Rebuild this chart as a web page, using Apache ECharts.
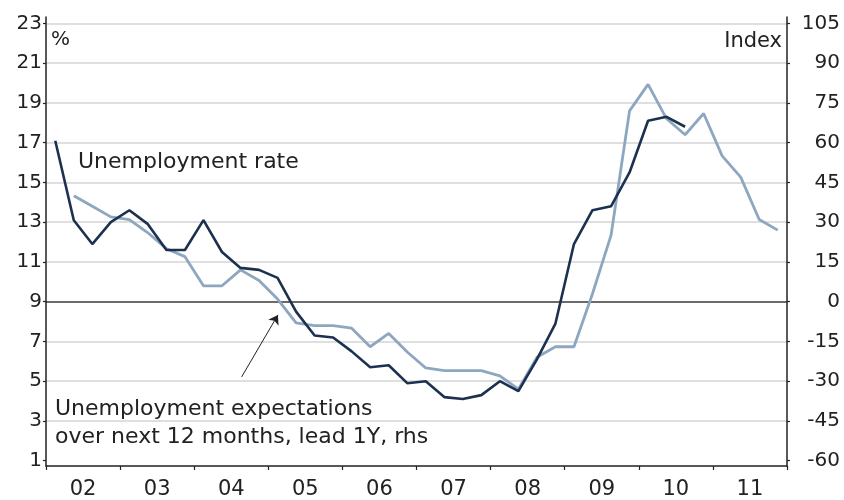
<!DOCTYPE html>
<html>
<head>
<meta charset="utf-8">
<script src="https://cdn.jsdelivr.net/npm/echarts@6/dist/echarts.min.js"></script>
<style>
  html, body { margin: 0; padding: 0; background: #fff; }
  #chart { width: 844px; height: 500px; }
</style>
</head>
<body>
<div id="chart"></div>
<script>
// Year labels on the bottom axis (one band per year)
const years = ['02', '03', '04', '05', '06', '07', '08', '09', '10', '11'];

// Unemployment rate, %, quarterly from 2002 Q1 (left axis)
const unemploymentRate = [
  17.1, 13.1, 11.9, 13.0,
  13.6, 12.9, 11.6, 11.6,
  13.1, 11.5, 10.7, 10.6,
  10.2, 8.5, 7.3, 7.2,
  6.5, 5.7, 5.8, 4.9,
  5.0, 4.2, 4.1, 4.3,
  5.0, 4.5, 6.1, 7.9,
  11.9, 13.6, 13.8, 15.5,
  18.1, 18.3, 17.8
];
const rateStartQuarter = 0;

// Unemployment expectations over next 12 months, index, lead 1Y, quarterly from 2002 Q2 (right axis)
const expectationsIndex = [
  40, 36, 32,
  31, 26, 20, 17,
  6, 6, 12, 8,
  1, -8, -9, -9,
  -10, -17, -12, -19,
  -25, -26, -26, -26,
  -28, -33, -21, -17,
  -17, 3, 25, 72,
  82, 69, 63, 71,
  55, 47, 31, 27
];
const expectationsStartQuarter = 1;

// Left and right axis scales
const leftTicks = { min: 1, max: 23, interval: 2 };
const rightTicks = { min: -60, max: 105, interval: 15 };

// Arrow from the label up to the expectations line: [yearsSince2002, index]
const arrowFrom = [2.64, -28.4];
const arrowTo = [3.13, -5.0];

// Quarter i is drawn at the middle of its quarter within the year band
function toPoints(values, startQuarter) {
  return values.map((v, i) => [(startQuarter + i + 0.5) / 4, v]);
}

const FONT = '"DejaVu Sans", Verdana, sans-serif';
const TEXT = '#222';
const DARK = '#1c3150';
const LIGHT = '#8da7c0';
const GRID = '#d5d5d5';

// Horizontal gridlines; the one at 9 % / 0 index is the dark zero line
const gridColors = [];
for (let v = leftTicks.min; v <= leftTicks.max; v += leftTicks.interval) {
  gridColors.push(v === leftTicks.min ? 'rgba(0,0,0,0)' : (v === 9 ? '#3a3a3a' : GRID));
}

const chart = echarts.init(document.getElementById('chart'), null, { renderer: 'canvas' });

chart.setOption({
  animation: false,
  backgroundColor: '#fff',
  textStyle: { fontFamily: FONT },
  grid: [
    { left: 46, right: 57, top: 23.4, bottom: 39.3 },
    { left: 46, right: 57, top: 17, bottom: 34 }
  ],
  xAxis: [
    { gridIndex: 0, type: 'value', min: 0, max: years.length, show: false },
    {
      gridIndex: 1,
      type: 'category',
      data: years,
      boundaryGap: true,
      axisLine: { show: true, lineStyle: { color: TEXT, width: 1.5 } },
      axisTick: { show: true, length: 4, lineStyle: { color: TEXT, width: 1.2 } },
      axisLabel: { margin: 13, fontSize: 21, color: TEXT, fontFamily: FONT },
      splitLine: { show: false }
    }
  ],
  yAxis: [
    {
      gridIndex: 0,
      type: 'value',
      position: 'left',
      min: leftTicks.min, max: leftTicks.max, interval: leftTicks.interval,
      axisLine: { show: false },
      axisTick: { show: true, length: 3, lineStyle: { color: TEXT, width: 1.2 } },
      axisLabel: { margin: 4, fontSize: 20, color: TEXT, fontFamily: FONT },
      splitLine: { show: true, lineStyle: { color: gridColors, width: 1.5 } }
    },
    {
      gridIndex: 0,
      type: 'value',
      position: 'right',
      min: rightTicks.min, max: rightTicks.max, interval: rightTicks.interval,
      axisLine: { show: false },
      axisTick: { show: true, length: 3, lineStyle: { color: TEXT, width: 1.2 } },
      axisLabel: { margin: 53, align: 'right', fontSize: 20, color: TEXT, fontFamily: FONT },
      splitLine: { show: false }
    },
    {
      gridIndex: 1, type: 'value', position: 'left', min: 0, max: 1,
      axisLine: { show: true, lineStyle: { color: TEXT, width: 1.5 } },
      axisTick: { show: false }, axisLabel: { show: false }, splitLine: { show: false }
    },
    {
      gridIndex: 1, type: 'value', position: 'right', min: 0, max: 1,
      axisLine: { show: true, lineStyle: { color: TEXT, width: 1.5 } },
      axisTick: { show: false }, axisLabel: { show: false }, splitLine: { show: false }
    }
  ],
  series: [
    {
      name: 'Unemployment expectations over next 12 months, lead 1Y, rhs',
      type: 'line',
      xAxisIndex: 0,
      yAxisIndex: 1,
      data: toPoints(expectationsIndex, expectationsStartQuarter),
      showSymbol: false,
      lineStyle: { color: LIGHT, width: 2.8 },
      itemStyle: { color: LIGHT },
      markLine: {
        silent: true,
        symbol: ['none', 'arrow'],
        symbolSize: 9,
        label: { show: false },
        emphasis: { disabled: true },
        lineStyle: { color: TEXT, width: 1, type: 'solid' },
        itemStyle: { color: TEXT },
        data: [[{ coord: arrowFrom }, { coord: arrowTo }]]
      }
    },
    {
      name: 'Unemployment rate',
      type: 'line',
      xAxisIndex: 0,
      yAxisIndex: 0,
      data: toPoints(unemploymentRate, rateStartQuarter),
      showSymbol: false,
      lineStyle: { color: DARK, width: 2.6 },
      itemStyle: { color: DARK }
    }
  ],
  graphic: [
    { type: 'text', x: 51, y: 40, style: { text: '%', font: '20px ' + FONT, fill: TEXT, align: 'left', verticalAlign: 'middle' } },
    { type: 'text', x: 782, y: 42, style: { text: 'Index', font: '21px ' + FONT, fill: TEXT, align: 'right', verticalAlign: 'middle' } },
    { type: 'text', x: 78, y: 162, style: { text: 'Unemployment rate', font: '22px ' + FONT, fill: TEXT, align: 'left', verticalAlign: 'middle' } },
    { type: 'text', x: 55, y: 409, style: { text: 'Unemployment expectations', font: '22px ' + FONT, fill: TEXT, align: 'left', verticalAlign: 'middle' } },
    { type: 'text', x: 55, y: 437, style: { text: 'over next 12 months, lead 1Y, rhs', font: '22px ' + FONT, fill: TEXT, align: 'left', verticalAlign: 'middle' } }
  ]
});
</script>
</body>
</html>
